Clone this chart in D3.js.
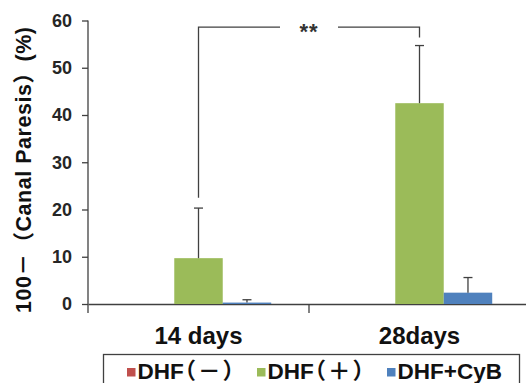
<!DOCTYPE html>
<html>
<head>
<meta charset="utf-8">
<script src="https://cdn.jsdelivr.net/npm/d3@7"></script>
<style>
  body { margin: 0; background: #fff; }
  text { font-family: Arial, "Liberation Sans", "Noto Sans CJK JP", sans-serif; font-weight: bold; }
</style>
</head>
<body>
<div id="chart"></div>
<script>
// Data
var groups = ["14 days", "28days"];
var series = ["DHF（－）", "DHF（＋）", "DHF+CyB"];
var colors = ["#C0504D", "#9BBB59", "#4F81BD"];
var means = [
  [0, 9.7, 0.3],   // 14 days
  [0, 42.5, 2.4]   // 28days
];
var errTops = [
  [0, 20.3, 0.9],
  [0, 54.7, 5.6]
];
var yTicks = [0, 10, 20, 30, 40, 50, 60];
// significance bracket: level and drop ends (data units)
var bracketLevel = 58.6;
var bracketEnds = [22.5, 56.4];
var bracketLabel = "**";

// Chart area
var svgWidth = 526;
var svgHeight = 383;
var margin = { top: 20.5, right: -4, bottom: 79, left: 88 };
var width = svgWidth - margin.left - margin.right;
var height = svgHeight - margin.top - margin.bottom;

var svg = d3.select("#chart")
  .append("svg")
  .attr("width", svgWidth)
  .attr("height", svgHeight);

var chartGroup = svg.append("g")
  .attr("transform", `translate(${margin.left}, ${margin.top})`);

// Scales
var x0 = d3.scaleBand()
  .domain(groups)
  .range([0, width])
  .padding(0);

var x1 = d3.scaleBand()
  .domain(series)
  .range([x0.bandwidth() * 0.171, x0.bandwidth() * 0.829])
  .padding(0);

var y = d3.scaleLinear()
  .domain([0, 60])
  .range([height, 0]);

var axisColor = "#404040";

// Y axis
var leftAxis = d3.axisLeft(y)
  .tickValues(yTicks)
  .tickSize(6)
  .tickPadding(10);

var yAxisG = chartGroup.append("g").call(leftAxis);
yAxisG.select(".domain").attr("stroke", axisColor).attr("stroke-width", 1.3)
  .attr("d", `M0,0V${height + 9}`);
yAxisG.selectAll(".tick line").attr("stroke", axisColor).attr("stroke-width", 1.3);
yAxisG.selectAll(".tick text")
  .attr("fill", "#262626")
  .style("font-size", "18px");

// X axis
var bottomAxis = d3.axisBottom(x0).tickSize(0).tickPadding(23);
var xAxisG = chartGroup.append("g")
  .attr("transform", `translate(0, ${height})`)
  .call(bottomAxis);
xAxisG.select(".domain").attr("stroke", axisColor).attr("stroke-width", 1.3);
xAxisG.selectAll(".tick text")
  .attr("fill", "#111")
  .style("font-size", "24px");

// category separators
xAxisG.selectAll(".sep")
  .data(groups.slice(1))
  .enter()
  .append("line")
  .attr("class", "sep")
  .attr("x1", d => x0(d))
  .attr("x2", d => x0(d))
  .attr("y1", 0)
  .attr("y2", 9)
  .attr("stroke", axisColor)
  .attr("stroke-width", 1.3);

// Bars
var rows = groups.map(function (g, i) {
  return series.map(function (s, j) {
    return { group: g, key: s, value: means[i][j], err: errTops[i][j], color: colors[j] };
  });
});

var groupG = chartGroup.selectAll(".grp")
  .data(rows)
  .enter()
  .append("g")
  .attr("class", "grp")
  .attr("transform", (d, i) => `translate(${x0(groups[i])}, 0)`);

groupG.selectAll("rect")
  .data(d => d)
  .enter()
  .append("rect")
  .attr("x", d => x1(d.key))
  .attr("y", d => y(d.value))
  .attr("width", x1.bandwidth())
  .attr("height", d => height - y(d.value))
  .attr("fill", d => d.color);

// Error bars (upper only)
var errData = d => d.filter(e => e.err > e.value);
groupG.selectAll(".err")
  .data(errData)
  .enter()
  .append("line")
  .attr("class", "err")
  .attr("x1", d => x1(d.key) + x1.bandwidth() / 2)
  .attr("x2", d => x1(d.key) + x1.bandwidth() / 2)
  .attr("y1", d => y(d.value))
  .attr("y2", d => y(d.err))
  .attr("stroke", axisColor)
  .attr("stroke-width", 1.3);

groupG.selectAll(".cap")
  .data(errData)
  .enter()
  .append("line")
  .attr("class", "cap")
  .attr("x1", d => x1(d.key) + x1.bandwidth() / 2 - 4.5)
  .attr("x2", d => x1(d.key) + x1.bandwidth() / 2 + 4.5)
  .attr("y1", d => y(d.err))
  .attr("y2", d => y(d.err))
  .attr("stroke", axisColor)
  .attr("stroke-width", 1.3);

// Significance bracket between DHF(+) bars
var bx1 = x0(groups[0]) + x1(series[1]) + x1.bandwidth() / 2;
var bx2 = x0(groups[1]) + x1(series[1]) + x1.bandwidth() / 2;
var bmid = (bx1 + bx2) / 2;
var gap = 29;
var by = y(bracketLevel);

chartGroup.append("path")
  .attr("d", `M${bx1},${y(bracketEnds[0])}V${by}H${bmid - gap}`)
  .attr("fill", "none")
  .attr("stroke", axisColor)
  .attr("stroke-width", 1.3);

chartGroup.append("path")
  .attr("d", `M${bmid + gap},${by}H${bx2}V${y(bracketEnds[1])}`)
  .attr("fill", "none")
  .attr("stroke", axisColor)
  .attr("stroke-width", 1.3);

chartGroup.append("text")
  .attr("x", bmid)
  .attr("y", by + 12)
  .attr("text-anchor", "middle")
  .attr("fill", "#333")
  .style("font-size", "22px")
  .style("letter-spacing", "1px")
  .text(bracketLabel);

// Y axis label (anchored at its bottom end)
svg.append("text")
  .attr("transform", "translate(31, 313) rotate(-90)")
  .attr("text-anchor", "start")
  .attr("textLength", 286)
  .attr("lengthAdjust", "spacing")
  .attr("fill", "#111")
  .style("font-size", "21.5px")
  .text("100－（Canal Paresis）(%)");

// Legend
var legend = svg.append("g");
legend.append("rect")
  .attr("x", 103.5)
  .attr("y", 354.5)
  .attr("width", 416)
  .attr("height", 40)
  .attr("fill", "#fff")
  .attr("stroke", axisColor)
  .attr("stroke-width", 1.3);

var legendX = [127, 257, 387];
var items = legend.selectAll(".item")
  .data(series)
  .enter()
  .append("g")
  .attr("class", "item")
  .attr("transform", (d, i) => `translate(${legendX[i]}, 0)`);

items.append("rect")
  .attr("x", 0)
  .attr("y", 368)
  .attr("width", 8.5)
  .attr("height", 8.5)
  .attr("fill", (d, i) => colors[i]);

var legendText = items.append("text")
  .attr("x", 10.5)
  .attr("y", 379)
  .attr("fill", "#111")
  .style("font-size", "22.5px")
  .style("font-feature-settings", "'palt'");

legendText.append("tspan")
  .text(d => d.split("（")[0]);

legendText.filter(d => d.indexOf("（") >= 0)
  .append("tspan")
  .style("letter-spacing", "3px")
  .text(d => d.slice(d.indexOf("（")));
</script>
</body>
</html>
